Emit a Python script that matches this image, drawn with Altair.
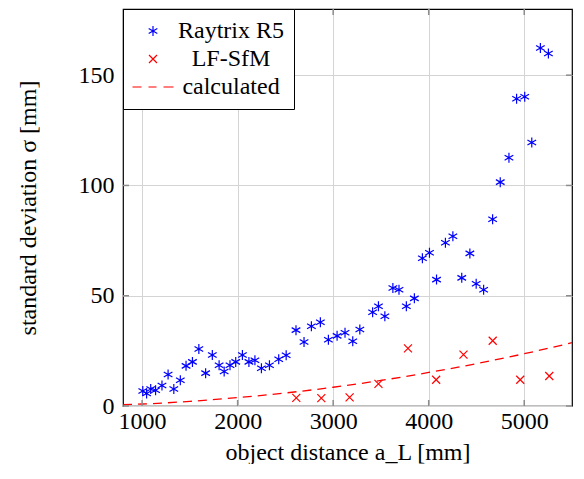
import altair as alt
import pandas as pd

# Raytrix R5 measurements (object distance [mm], standard deviation [mm])
raytrix_x = [1007, 1047, 1090, 1141, 1208, 1272, 1332, 1400, 1460, 1527, 1594, 1665, 1735, 1806,
             1859, 1920, 1980, 2050, 2118, 2181, 2249, 2333, 2430, 2508, 2611, 2695, 2772, 2866,
             2950, 3041, 3124, 3205, 3279, 3413, 3474, 3541, 3625, 3689, 3766, 3850, 3934, 4008,
             4082, 4175, 4253, 4346, 4431, 4497, 4575, 4669, 4749, 4840, 4920, 5005, 5079, 5169, 5253]
raytrix_y = [6.8, 5.7, 7.7, 7.1, 9.3, 14.3, 7.7, 11.7, 18.2, 20.0, 25.8, 14.9, 23.1, 18.5,
             15.6, 18.5, 20.0, 23.1, 20.0, 20.7, 17.1, 18.5, 21.2, 23.0, 34.4, 29.0, 36.2, 38.0,
             30.0, 31.8, 33.2, 29.4, 34.7, 42.5, 45.2, 40.7, 53.5, 52.7, 45.2, 48.8, 67.0, 69.5,
             57.3, 74.0, 77.0, 58.1, 69.2, 55.4, 52.7, 84.7, 101.5, 112.6, 139.3, 140.2, 119.5, 162.3, 159.8]

# LF-SfM measurements
lfsfm_x = [2614, 2876, 3172, 3474, 3783, 4078, 4364, 4670, 4958, 5262]
lfsfm_y = [3.7, 3.6, 3.9, 10.0, 26.1, 11.9, 23.3, 29.6, 11.9, 13.6]

# calculated curve
calc_x = [800, 1000, 1500, 2000, 2500, 3000, 3500, 4000, 4500, 5000, 5500]
calc_y = [0.6, 0.9, 2.1, 3.8, 5.9, 8.5, 11.6, 15.2, 19.2, 23.7, 28.7]

series_names = ["Raytrix R5", "LF-SfM", "calculated"]
x_ticks = [1000, 2000, 3000, 4000, 5000]
y_ticks = [0, 50, 100, 150]

points = pd.DataFrame({
    "a": raytrix_x + lfsfm_x,
    "s": raytrix_y + lfsfm_y,
    "series": ["Raytrix R5"] * len(raytrix_x) + ["LF-SfM"] * len(lfsfm_x),
})
calc = pd.DataFrame({"a": calc_x, "s": calc_y})
xt = pd.DataFrame({"a": x_ticks})
yt = pd.DataFrame({"s": y_ticks})

FONT = "Liberation Serif"
ASTERISK = "M0,-1L0,1M-0.866,-0.5L0.866,0.5M-0.866,0.5L0.866,-0.5"
XMARK = "M-0.8,-0.8L0.8,0.8M-0.8,0.8L0.8,-0.8"
DASH = "M-4.1,0L-2.3,0M-0.9,0L0.7,0M2.1,0L4.1,0"
TICK_COLOR = "#8c8c8c"

xscale = alt.Scale(domain=[800, 5500], nice=False, zero=False)
yscale = alt.Scale(domain=[0, 180], nice=False)

xaxis = alt.Axis(values=x_ticks, format="d", title="object distance a_L [mm]",
                 labelPadding=3, titlePadding=7)
yaxis = alt.Axis(values=y_ticks, format="d", title="standard deviation σ [mm]",
                 labelPadding=9, titlePadding=38)

legend = alt.Legend(title=None, orient="top-left", offset=0, padding=10,
                    fillColor="white", strokeColor="black", cornerRadius=0,
                    labelFont=FONT, labelFontSize=24, labelAlign="center",
                    labelOffset=66, labelLimit=0, symbolSize=100, symbolOffset=8,
                    symbolStrokeWidth=1.2, rowPadding=4)

line = alt.Chart(calc).mark_line(
    color="#ff0000", strokeDash=[9, 6], strokeWidth=1.3, interpolate="monotone"
).encode(
    x=alt.X("a:Q", scale=xscale, axis=xaxis),
    y=alt.Y("s:Q", scale=yscale, axis=yaxis),
)

# inward tick marks on all four sides of the frame
tick_top = alt.Chart(xt).mark_rule(color=TICK_COLOR, strokeWidth=1.5).encode(
    x=alt.X("a:Q", scale=xscale), y=alt.value(0), y2=alt.value(6))
tick_bottom = alt.Chart(xt).mark_rule(color=TICK_COLOR, strokeWidth=1.5).encode(
    x=alt.X("a:Q", scale=xscale), y=alt.value("height"),
    y2=alt.value(alt.expr("height - 6")))
tick_left = alt.Chart(yt).mark_rule(color=TICK_COLOR, strokeWidth=1.5).encode(
    y=alt.Y("s:Q", scale=yscale), x=alt.value(0), x2=alt.value(6))
tick_right = alt.Chart(yt).mark_rule(color=TICK_COLOR, strokeWidth=1.5).encode(
    y=alt.Y("s:Q", scale=yscale), x=alt.value("width"),
    x2=alt.value(alt.expr("width - 6")))

pts = alt.Chart(points).mark_point(
    filled=False, size=100, strokeWidth=1.2, opacity=1
).encode(
    x=alt.X("a:Q", scale=xscale),
    y=alt.Y("s:Q", scale=yscale),
    color=alt.Color("series:N", scale=alt.Scale(domain=series_names,
                    range=["#0000ff", "#ff0000", "#ff0000"]), legend=legend),
    shape=alt.Shape("series:N", scale=alt.Scale(domain=series_names,
                    range=[ASTERISK, XMARK, DASH]), legend=legend),
)

chart = alt.layer(line, tick_top, tick_bottom, tick_left, tick_right, pts).properties(
    width=567, height=456,
    autosize=alt.AutoSizeParams(type="fit", contains="padding"),
    padding={"left": 8, "top": 0, "right": 0, "bottom": 0},
).configure_view(
    stroke="black", strokeWidth=1.2
).configure_axis(
    grid=True, gridColor="#d4d4d4", gridWidth=1, domain=False, ticks=False,
    labelFont=FONT, labelFontSize=24, labelColor="black",
    titleFont=FONT, titleFontSize=24, titleFontWeight="normal", titleColor="black",
)

chart.save("out.html", embed_options={"renderer": "svg", "actions": False})
